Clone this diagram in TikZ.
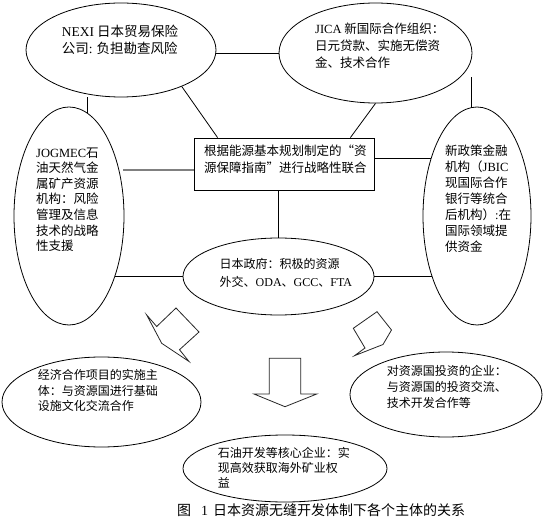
\documentclass[tikz,border=0pt]{standalone}
\usepackage{fontspec}
\setmainfont{Noto Sans CJK SC}
\newfontfamily\lat{Liberation Serif}
\usetikzlibrary{shapes.geometric}
\begin{document}
\begin{tikzpicture}[x=1pt,y=-1pt,
  oval/.style={draw,ellipse,inner sep=0pt,line width=0.8pt},
  box/.style={draw,rectangle,inner sep=0pt,line width=0.8pt},
  txt/.style={anchor=north west,inner sep=0pt,align=left},
  link/.style={line width=0.8pt},
  graylink/.style={line width=2pt,draw=gray},
  blockarrow/.style={line width=0.8pt,draw=black!85,line join=miter}]
\useasboundingbox[fill=white] (0,0) rectangle (546,521);

\node[oval,minimum width=190pt,minimum height=94pt] (nexi) at (121,50) {};
\node[oval,minimum width=193pt,minimum height=100pt] (jica) at (375.5,53) {};
\node[oval,minimum width=110pt,minimum height=218pt] (jogmec) at (69,216) {};
\node[oval,minimum width=108pt,minimum height=218pt] (newfin) at (477,216) {};
\node[box,minimum width=180pt,minimum height=52pt] (guide) at (284,164) {};
\node[oval,minimum width=191pt,minimum height=77pt] (gov) at (278.5,276.5) {};
\node[oval,minimum width=199pt,minimum height=90pt] (econ) at (101.5,402) {};
\node[oval,minimum width=192pt,minimum height=85pt] (invest) at (446,394.5) {};
\node[oval,minimum width=204pt,minimum height=67pt] (core) at (285,468.5) {};

\draw[link] (jica.west) -- (jica.west -| nexi.east);
\draw[link] (jogmec.80) -- (jogmec.80 |- nexi.south);
\draw[link] (nexi.329) -- ([xshift=24pt]guide.north west);
\draw[link] (jica.south) -- ([xshift=-24pt]guide.north east);
\draw[link] ([xshift=-6pt]newfin.north) -- ++(0,-30);
\draw[graylink] ([yshift=-6pt]guide.west) -- ++(-71,0);
\draw[link] (newfin.129) -- (newfin.129 -| guide.east);
\draw[link] (gov.north) -- (gov.north |- guide.south);
\draw[link] (gov.west) -- (gov.west -| jogmec.307);
\draw[link] (gov.east) -- (gov.east -| newfin.233);

\draw[blockarrow] (269.3,358.3) -- (300.7,358.3) -- (300.7,394) -- (316.7,394) -- (285,406.7) -- (254,394) -- (269.3,394) -- cycle;
\draw[blockarrow] (146.7,315) -- (156.7,326.5) -- (176,308) -- (199,332) -- (179.5,349.7) -- (189,361.5) -- (161.7,343.3) -- cycle;
\draw[blockarrow] (353.3,328.3) -- (377,311.7) -- (391.5,330) -- (383,344.5) -- (354.5,355.7) -- (365,348) -- cycle;

\node[txt,font=\fontsize{13.5}{17.6}\selectfont] (nexit) at (61.7,24.6) {{\lat NEXI} 日本贸易保险\\公司{\lat :} 负担勘查风险};
\node[txt,font=\fontsize{12.5}{17}\selectfont] (jicat) at (315,22.4) {{\lat JICA}\ 新国际合作组织：\\日元贷款、实施无偿资\\金、技术合作};
\node[txt,font=\fontsize{12.5}{17}\selectfont] (guidet) at (204,144.4) {根据能源基本规划制定的“资\\源保障指南”进行战略性联合};
\node[txt,font=\fontsize{12.5}{15.6}\selectfont] (jogmect) at (36,147.4) {{\lat JOGMEC}石\\油天然气金\\属矿产资源\\机构：风险\\管理及信息\\技术的战略\\性支援};
\node[txt,font=\fontsize{12.5}{16}\selectfont] (newfint) at (445,144.4) {新政策金融\\机构（{\lat JBIC}\\现国际合作\\银行等统合\\后机构）{\lat :}在\\国际领域提\\供资金};
\node[txt,font=\fontsize{12}{18}\selectfont] (govt) at (219.5,258.6) {日本政府：积极的资源\\外交、{\lat ODA}、{\lat GCC}、{\lat FTA}};
\node[txt,font=\fontsize{12}{15.5}\selectfont] (econt) at (37.6,369.6) {经济合作项目的实施主\\体：与资源国进行基础\\设施文化交流合作};
\node[txt,font=\fontsize{12}{16}\selectfont] (investt) at (386.6,365.6) {对资源国投资的企业：\\与资源国的投资交流、\\技术开发合作等};
\node[txt,font=\fontsize{12}{14.7}\selectfont] (coret) at (217.7,447.6) {石油开发等核心企业：实\\现高效获取海外矿业权\\益};
\node[anchor=west,inner sep=0pt,font=\fontsize{14}{16}\selectfont] (caption) at (177,510) {图\hspace{10pt}{\lat 1}\hspace{5pt}日本资源无缝开发体制下各个主体的关系};
\end{tikzpicture}
\end{document}
